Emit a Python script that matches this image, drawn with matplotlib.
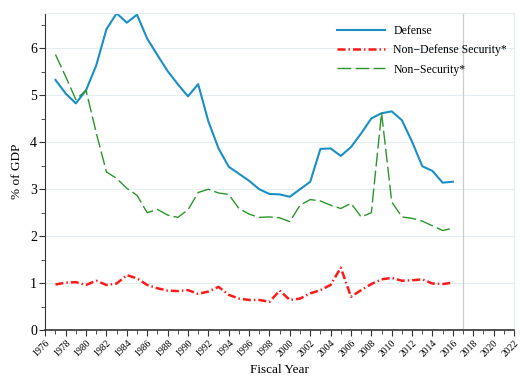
import numpy as np
import matplotlib
matplotlib.use('Agg')
import matplotlib.pyplot as plt
from matplotlib.ticker import MultipleLocator

plt.rcParams['font.family'] = ['Liberation Serif', 'DejaVu Serif']

years = list(range(1977, 2017))
defense = [5.33, 5.04, 4.83, 5.11, 5.64, 6.41, 6.75, 6.55, 6.72, 6.21,
           5.86, 5.52, 5.24, 4.98, 5.24, 4.45, 3.87, 3.48, 3.33, 3.18,
           3.00, 2.90, 2.89, 2.84, 3.00, 3.16, 3.86, 3.87, 3.71, 3.90,
           4.19, 4.51, 4.62, 4.66, 4.47, 4.01, 3.49, 3.39, 3.14, 3.16]
non_def_security = [0.97, 1.01, 1.02, 0.96, 1.05, 0.96, 0.99, 1.17, 1.10, 0.96,
                    0.89, 0.84, 0.83, 0.85, 0.77, 0.82, 0.92, 0.75, 0.67, 0.64,
                    0.64, 0.60, 0.84, 0.64, 0.67, 0.78, 0.85, 0.96, 1.33, 0.71,
                    0.85, 0.98, 1.08, 1.11, 1.05, 1.06, 1.08, 0.99, 0.98, 1.01]
non_security = [5.87, 5.40, 4.91, 5.11, 4.20, 3.37, 3.23, 3.02, 2.87, 2.50,
                2.57, 2.45, 2.40, 2.56, 2.93, 3.00, 2.92, 2.89, 2.59, 2.47,
                2.40, 2.41, 2.39, 2.31, 2.66, 2.78, 2.75, 2.66, 2.59, 2.70,
                2.41, 2.50, 4.63, 2.73, 2.41, 2.38, 2.32, 2.22, 2.12, 2.17]

fig = plt.figure(figsize=(5.28, 3.84), dpi=100)
ax = fig.add_axes([0.0858, 0.1406, 0.8877, 0.8248])

ax.plot(years, defense, color='#1a8fc6', lw=1.5, label='Defense')
ax.plot(years, non_def_security, color='#ff1a1a', lw=1.8, dashes=(3.2, 1.2, 0.6, 1.2),
        label='Non\u2212Defense Security*')
ax.plot(years, non_security, color='#2a962a', lw=1.0, dashes=(10, 3),
        label='Non\u2212Security*')

ax.axvline(2017, color='#cccccc', lw=0.9)

ax.set_xlim(1976, 2022)
ax.set_ylim(0, 6.75)
ax.xaxis.set_major_locator(MultipleLocator(2))
ax.xaxis.set_minor_locator(MultipleLocator(1))
ax.yaxis.set_major_locator(MultipleLocator(1))
ax.yaxis.set_minor_locator(MultipleLocator(0.5))
ax.grid(axis='y', which='major', color='#e4eef2', lw=0.8)
ax.set_axisbelow(True)

for s in ['top', 'right']:
    ax.spines[s].set_color('#e4eef2')
for s in ['left', 'bottom']:
    ax.spines[s].set_color('#333333')
ax.spines['bottom'].set_linewidth(1.2)

ax.tick_params(axis='both', which='major', direction='out', length=4, color='#333333',
               labelsize=10, pad=2)
ax.tick_params(axis='both', which='minor', direction='out', length=3, color='#333333')
plt.setp(ax.get_xticklabels(), rotation=45, ha='right', rotation_mode='anchor', fontsize=7)

ax.set_xlabel('Fiscal Year', fontsize=9.5, labelpad=4)
ax.set_ylabel('% of GDP', fontsize=9.5, labelpad=5)

ax.legend(loc='upper right', frameon=False, fontsize=8.5, handlelength=4.1,
          handletextpad=0.7, bbox_to_anchor=(1.008, 0.997), labelspacing=0.62)

fig.savefig('out.png', dpi=100)
